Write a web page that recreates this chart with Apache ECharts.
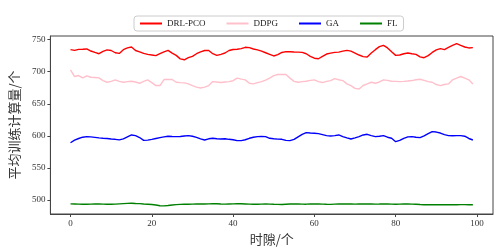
<!DOCTYPE html>
<html><head><meta charset="utf-8">
<script src="https://cdn.jsdelivr.net/npm/echarts@6/dist/echarts.min.js"></script>
<style>html,body{margin:0;padding:0;background:#fff}#c{width:504px;height:252px}</style>
</head><body><div id="c"></div>
<script>
const seriesNames = ['DRL-PCO','DDPG','GA','FL'];
const xTicks = [0,20,40,60,80,100];
const yTicks = [500,550,600,650,700,750];
const drlpco = [734.3,733.3,734.8,735,735.4,732.2,730,728,731.7,734,733,729.5,728.5,734.3,737,738.5,733,731,728.5,727,726,725,728,731,733.3,729,725.4,720,718.6,721.8,724,728,731,733,733,728,725.4,727,729.1,733,734.5,735,736,738,737.5,735.4,734,732,729.5,727,724.5,726.5,730,731.2,731,730.7,730.5,730.1,728,724,721,720.2,724,727.5,729,730.1,730.5,732,733.3,732,729.1,726,723.5,722.8,729,734.3,739,741.1,737,731,725.4,726,728,729.1,728,727,723,721.8,725,730,734,735.9,734.3,738,741,743.7,741,738.5,737,737.5];
const ddpg = [703,692.5,694,690.4,693.5,691.4,691,690.4,686,683.6,685,687.3,685,683.6,684.5,685.2,684,682,685,687.3,683,678.4,678.4,687.8,688,687.8,683.6,683,682.6,681,678.4,676,674.7,676,678.4,684.6,684,683.1,684,684.6,686,689.9,688.5,687.3,682,681,683,684.6,687,690,694,695.6,695.8,695.6,690,685,683.6,684.5,685.2,686.5,687.3,684.5,683.1,685,686.2,689.3,687.5,686.2,681,678.4,674,673.1,678.5,681,683.6,682,684,687.3,686.5,685.2,685,684.6,685,685.5,686.2,687.5,688.3,686.5,684.5,683.6,680,678.4,680,681,687.3,690,692.5,690,687.3,681];
const ga = [589.4,593.5,596,598,598.9,598.5,597.8,597,596.3,596,595.2,594.7,593.8,595.5,598.5,601.5,600.5,597.5,593,593.5,594.7,596,597.3,598.5,599.4,599,598.9,599,599.8,600.4,599.5,597.8,595.5,593.6,595.5,596.3,595.5,595.2,595.5,594.7,594,592.6,592.6,594,596.3,598,598.9,599,598.9,596.3,595.5,595,594.7,593,592.6,594.5,598.5,602.5,605.1,604.5,604.1,603.5,602,600.4,599.9,600.5,601.5,599,597,595.2,597,598.9,601.5,602.5,600.5,598.9,599.5,600.4,598,596.3,591,593,596.3,598.5,598.9,598,597.3,600,603.5,606.7,606,604.5,602,600.4,600.2,600.4,600.4,599.5,596,593.6];
const fl = [494.2,494,493.8,493.7,493.6,493.8,494,493.9,493.7,493.5,493.6,493.8,494.2,494.6,495,495.2,494.8,494.5,494,493.6,493.2,492.5,491.3,491,491.6,492.4,493,493.4,493.5,493.6,493.8,494,494.1,494,494.2,494.4,494.3,494,493.8,494,494.2,494.5,494.3,494,493.7,493.5,493.6,493.8,493.9,493.7,493.5,493.4,493.3,493.6,493.9,494.1,494,493.8,493.7,493.9,494.1,494,493.7,493.5,493.4,493.7,493.9,494,494,493.9,493.8,493.9,494,494.1,494,493.8,493.9,494.1,494,493.8,493.7,493.8,494,494,493.8,493.5,493.1,492.8,492.7,492.8,492.9,493,492.8,492.7,492.8,492.9,493,493,492.9,492.8];
const colors = ['#ff0000','#ffc0cb','#0000ff','#008000'];
const allData = [drlpco, ddpg, ga, fl];

const chart = echarts.init(document.getElementById('c'), null, {renderer:'canvas'});
const serif = '"Liberation Serif","DejaVu Serif",serif';
const cjk = '"Noto Sans CJK SC",sans-serif';
chart.setOption({
  animation:false,
  backgroundColor:'#fff',
  grid:{left:43,right:11,top:36,bottom:38,show:true,borderColor:'#444',borderWidth:1,backgroundColor:'transparent'},
  legend:{
    top:16,left:134,
    data:seriesNames,
    icon:'rect',itemWidth:22,itemHeight:2,itemGap:21,
    borderColor:'#ccc',borderWidth:1,borderRadius:3,padding:[3,6,3,6],
    textStyle:{fontFamily:serif,fontSize:9,color:'#222'}
  },
  xAxis:{
    type:'value',min:-4.95,max:103.95,
    name:'时隙/个',nameLocation:'middle',nameGap:19,
    nameTextStyle:{fontFamily:cjk,fontSize:13,color:'#333'},
    axisLine:{show:true,onZero:false,lineStyle:{color:'#444'}},
    axisTick:{show:true,length:3,inside:false,customValues:xTicks,lineStyle:{color:'#444'}},
    axisLabel:{customValues:xTicks,fontFamily:serif,fontSize:9,color:'#333',margin:5},
    splitLine:{show:false}
  },
  yAxis:{
    type:'value',min:478.4,max:755.6,
    name:'平均训练计算量/个',nameLocation:'middle',nameGap:27,nameRotate:90,
    nameTextStyle:{fontFamily:cjk,fontSize:13,color:'#333'},
    axisLine:{show:true,onZero:false,lineStyle:{color:'#444'}},
    axisTick:{show:true,length:3,inside:false,customValues:yTicks,lineStyle:{color:'#444'}},
    axisLabel:{customValues:yTicks,fontFamily:serif,fontSize:9,color:'#333',margin:5},
    splitLine:{show:false}
  },
  series: seriesNames.map((n,k)=>({
    name:n,type:'line',showSymbol:false,symbol:'none',
    data: allData[k].map((v,i)=>[i,v]),
    lineStyle:{color:colors[k],width:1.4},
    itemStyle:{color:colors[k]}
  }))
});
</script></body></html>
